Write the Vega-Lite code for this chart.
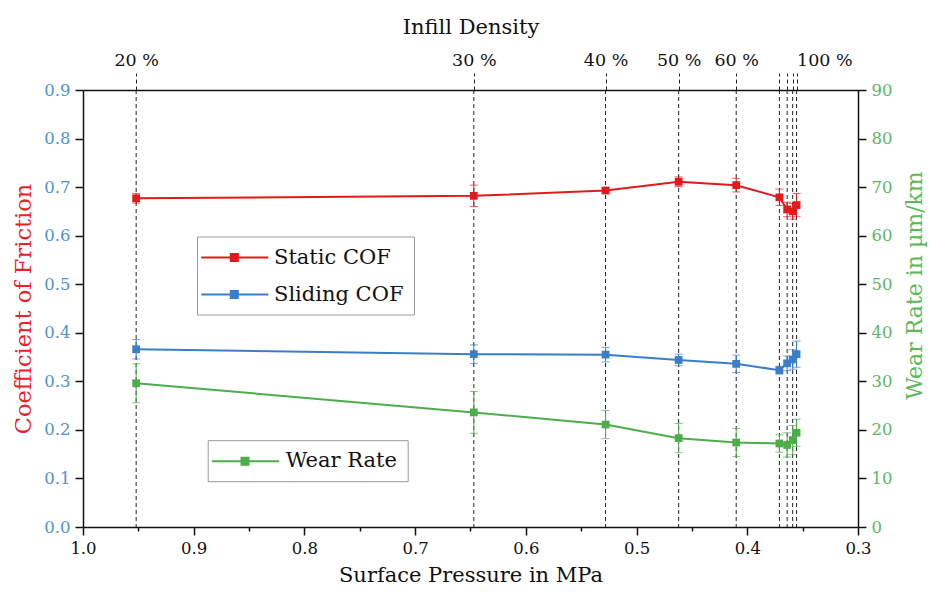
{
  "$schema": "https://vega.github.io/schema/vega-lite/v6.json",
  "width": 775,
  "height": 437,
  "autosize": "none",
  "padding": {"left": 83, "top": 90, "right": 72, "bottom": 67},
  "background": "white",
  "config": {
    "view": {"stroke": null},
    "axis": {
      "labelFont": "DejaVu Serif",
      "titleFont": "DejaVu Serif",
      "titleFontWeight": "normal",
      "labelFontSize": 16.5,
      "titleFontSize": 21,
      "domainColor": "#111",
      "domainWidth": 1.5,
      "tickColor": "#111",
      "tickWidth": 1.5,
      "grid": false
    },
    "legend": {
      "labelFont": "DejaVu Serif",
      "labelFontSize": 21,
      "labelColor": "#111"
    }
  },
  "data": {
    "values": [
      {"pressure": 0.952, "infill": "20 %", "static": 0.677, "static_err": 0.010, "sliding": 0.366, "sliding_err": 0.020, "wear": 29.6, "wear_err": 4.0},
      {"pressure": 0.647, "infill": "30 %", "static": 0.682, "static_err": 0.022, "sliding": 0.356, "sliding_err": 0.019, "wear": 23.6, "wear_err": 4.3},
      {"pressure": 0.528, "infill": "40 %", "static": 0.693, "static_err": 0.006, "sliding": 0.355, "sliding_err": 0.015, "wear": 21.1, "wear_err": 2.9},
      {"pressure": 0.462, "infill": "50 %", "static": 0.711, "static_err": 0.010, "sliding": 0.344, "sliding_err": 0.012, "wear": 18.3, "wear_err": 3.0},
      {"pressure": 0.41, "infill": "60 %", "static": 0.704, "static_err": 0.014, "sliding": 0.336, "sliding_err": 0.018, "wear": 17.4, "wear_err": 2.9},
      {"pressure": 0.371, "infill": "70 %", "static": 0.679, "static_err": 0.017, "sliding": 0.323, "sliding_err": 0.008, "wear": 17.2, "wear_err": 1.8},
      {"pressure": 0.364, "infill": "80 %", "static": 0.654, "static_err": 0.015, "sliding": 0.337, "sliding_err": 0.015, "wear": 16.9, "wear_err": 2.5},
      {"pressure": 0.359, "infill": "90 %", "static": 0.650, "static_err": 0.016, "sliding": 0.345, "sliding_err": 0.020, "wear": 17.9, "wear_err": 3.0},
      {"pressure": 0.3555, "infill": "100 %", "static": 0.663, "static_err": 0.024, "sliding": 0.356, "sliding_err": 0.027, "wear": 19.4, "wear_err": 2.8}
    ]
  },
  "layer": [
    {
      "mark": {"type": "rule", "color": "#222", "strokeWidth": 1, "strokeDash": [4, 3]},
      "encoding": {
        "x": {
          "field": "pressure", "type": "quantitative",
          "scale": {"domain": [0.3, 1.0], "reverse": true, "nice": false, "zero": false},
          "axis": {
            "orient": "top",
            "title": "Infill Density",
            "titleColor": "#111",
            "titlePadding": 14,
            "values": [0.952, 0.647, 0.528, 0.462, 0.41, 0.371, 0.364, 0.359, 0.3555],
            "labelExpr": "datum.value == 0.952 ? '20 %' : datum.value == 0.647 ? '30 %' : datum.value == 0.528 ? '40 %' : datum.value == 0.462 ? '50 %' : datum.value == 0.41 ? '60 %' : datum.value == 0.3555 ? '100 %' : ''",
            "labelAlign": {"condition": {"test": "datum.value < 0.356", "value": "left"}, "value": "center"},
            "labelFontSize": 17.5,
            "labelColor": "#111",
            "labelPadding": 4,
            "labelFlush": false,
            "labelOverlap": false,
            "tickSize": 17,
            "tickDash": [4, 3],
            "tickWidth": 1,
            "tickColor": "#222"
          }
        }
      }
    },
    {
      "layer": [
        {
          "mark": {"type": "line", "strokeWidth": 2},
          "encoding": {
            "x": {
              "field": "pressure", "type": "quantitative",
              "axis": {
                "orient": "bottom",
                "title": "Surface Pressure in MPa",
                "titleColor": "#111",
                "titlePadding": 8,
                "values": [0.3, 0.35, 0.4, 0.45, 0.5, 0.55, 0.6, 0.65, 0.7, 0.75, 0.8, 0.85, 0.9, 0.95, 1.0],
                "labelExpr": "round(datum.value*20) % 2 == 0 ? format(datum.value, '.1f') : ''",
                "labelColor": "#111",
                "labelPadding": 5,
                "labelFlush": false,
                "labelOverlap": false,
                "tickSize": {"condition": {"test": "round(datum.value*20) % 2 == 1", "value": 4}, "value": 8}
              }
            },
            "y": {
              "field": "static", "type": "quantitative",
              "scale": {"domain": [0, 0.9], "nice": false},
              "axis": {
                "orient": "left",
                "title": "Coefficient of Friction",
                "titleColor": "#e8212a",
                "titleFontSize": 22.5,
                "titlePadding": 8,
                "values": [0, 0.05, 0.1, 0.15, 0.2, 0.25, 0.3, 0.35, 0.4, 0.45, 0.5, 0.55, 0.6, 0.65, 0.7, 0.75, 0.8, 0.85, 0.9],
                "labelExpr": "round(datum.value*20) % 2 == 0 ? format(datum.value, '.1f') : ''",
                "labelColor": "#4f93d2",
                "labelPadding": 5,
                "labelFlush": false,
                "labelOverlap": false,
                "tickSize": {"condition": {"test": "round(datum.value*20) % 2 == 1", "value": 4}, "value": 8}
              }
            },
            "color": {
              "datum": "Static COF",
              "scale": {"domain": ["Static COF", "Sliding COF"], "range": ["#e31a1c", "#3a7dc9"]},
              "legend": {
                "title": null,
                "orient": "none",
                "legendX": 114,
                "legendY": 146.5,
                "padding": 10,
                "strokeColor": "#999",
                "fillColor": "white",
                "symbolType": "M-1.67,0H5.03M1.28,-0.35H1.98V0.35H1.28Z",
                "symbolSize": 400,
                "symbolStrokeWidth": 2,
                "labelOffset": 45,
                "rowPadding": 16,
                "encode": {"symbols": {"update": {"fill": {"signal": "datum.value == 'Static COF' ? '#e31a1c' : '#3a7dc9'"}, "fillOpacity": {"value": 1}}}}
              }
            }
          }
        },
        {
          "mark": {"type": "errorbar", "color": "#e31a1c", "thickness": 1, "ticks": {"size": 8, "thickness": 1}},
          "encoding": {
            "x": {"field": "pressure", "type": "quantitative"},
            "y": {"field": "static", "type": "quantitative", "title": "Coefficient of Friction"},
            "yError": {"field": "static_err"}
          }
        },
        {
          "mark": {"type": "point", "shape": "square", "filled": true, "opacity": 1, "size": 60, "color": "#e31a1c"},
          "encoding": {
            "x": {"field": "pressure", "type": "quantitative"},
            "y": {"field": "static", "type": "quantitative", "title": "Coefficient of Friction"}
          }
        },
        {
          "mark": {"type": "line", "strokeWidth": 2},
          "encoding": {
            "x": {"field": "pressure", "type": "quantitative"},
            "y": {"field": "sliding", "type": "quantitative", "title": "Coefficient of Friction"},
            "color": {"datum": "Sliding COF"}
          }
        },
        {
          "mark": {"type": "errorbar", "color": "#3a7dc9", "thickness": 1, "ticks": {"size": 8, "thickness": 1}},
          "encoding": {
            "x": {"field": "pressure", "type": "quantitative"},
            "y": {"field": "sliding", "type": "quantitative", "title": "Coefficient of Friction"},
            "yError": {"field": "sliding_err"}
          }
        },
        {
          "mark": {"type": "point", "shape": "square", "filled": true, "opacity": 1, "size": 60, "color": "#3a7dc9"},
          "encoding": {
            "x": {"field": "pressure", "type": "quantitative"},
            "y": {"field": "sliding", "type": "quantitative", "title": "Coefficient of Friction"}
          }
        }
      ]
    },
    {
      "layer": [
        {
          "mark": {"type": "line", "strokeWidth": 2},
          "encoding": {
            "x": {"field": "pressure", "type": "quantitative", "axis": null},
            "y": {
              "field": "wear", "type": "quantitative",
              "scale": {"domain": [0, 90], "nice": false},
              "axis": {
                "orient": "right",
                "title": "Wear Rate in µm/km",
                "titleColor": "#5cb85c",
                "titleFontSize": 22,
                "titleAngle": 270,
                "titleBaseline": "top",
                "titlePadding": 13,
                "titleY": 195,
                "values": [0, 5, 10, 15, 20, 25, 30, 35, 40, 45, 50, 55, 60, 65, 70, 75, 80, 85, 90],
                "labelExpr": "datum.value % 10 == 0 ? format(datum.value, 'd') : ''",
                "labelColor": "#5cb85c",
                "labelPadding": 5,
                "labelFlush": false,
                "labelOverlap": false,
                "tickSize": {"condition": {"test": "datum.value % 10 != 0", "value": 4}, "value": 8}
              }
            },
            "color": {
              "datum": "Wear Rate",
              "scale": {"domain": ["Wear Rate"], "range": ["#4cad4a"]},
              "legend": {
                "title": null,
                "orient": "none",
                "legendX": 124.7,
                "legendY": 350.2,
                "padding": 10,
                "strokeColor": "#999",
                "fillColor": "white",
                "symbolType": "M-1.67,0H5.03M1.28,-0.35H1.98V0.35H1.28Z",
                "symbolSize": 400,
                "symbolStrokeWidth": 2,
                "labelOffset": 46,
                "encode": {"symbols": {"update": {"fill": {"value": "#4cad4a"}, "fillOpacity": {"value": 1}}}}
              }
            }
          }
        },
        {
          "mark": {"type": "errorbar", "color": "#4cad4a", "thickness": 1, "ticks": {"size": 8, "thickness": 1}},
          "encoding": {
            "x": {"field": "pressure", "type": "quantitative"},
            "y": {"field": "wear", "type": "quantitative", "title": "Wear Rate in µm/km"},
            "yError": {"field": "wear_err"}
          }
        },
        {
          "mark": {"type": "point", "shape": "square", "filled": true, "opacity": 1, "size": 60, "color": "#4cad4a"},
          "encoding": {
            "x": {"field": "pressure", "type": "quantitative"},
            "y": {"field": "wear", "type": "quantitative", "title": "Wear Rate in µm/km"}
          }
        }
      ]
    }
  ],
  "resolve": {
    "scale": {"y": "independent", "color": "independent"},
    "axis": {"x": "independent", "y": "independent"}
  }
}
